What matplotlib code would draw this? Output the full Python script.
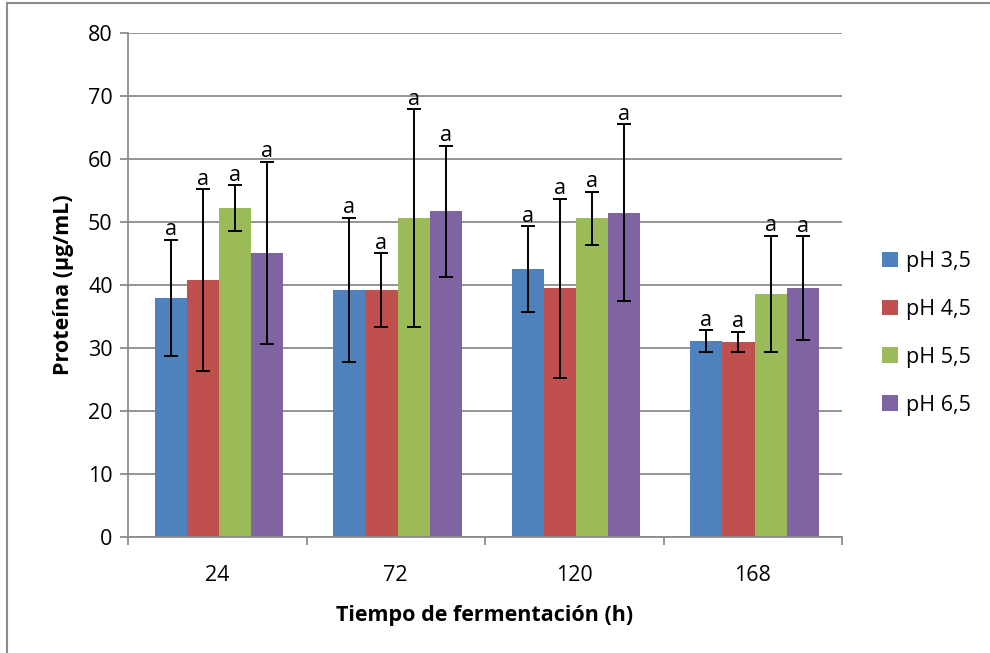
import matplotlib
matplotlib.use("Agg")
import matplotlib.pyplot as plt
from matplotlib.lines import Line2D
import numpy as np

plt.rcParams['font.family'] = ['Open Sans', 'DejaVu Sans']

categories = ["24", "72", "120", "168"]
series = ["pH 3,5", "pH 4,5", "pH 5,5", "pH 6,5"]
values = [
    [38.0, 39.2, 42.5, 31.1],   # pH 3,5
    [40.8, 39.2, 39.5, 31.0],   # pH 4,5
    [52.2, 50.6, 50.6, 38.6],   # pH 5,5
    [45.1, 51.7, 51.5, 39.5],   # pH 6,5
]
errors = [
    [9.2, 11.5, 6.8, 1.7],
    [14.4, 5.8, 14.2, 1.6],
    [3.6, 17.3, 4.2, 9.2],
    [14.5, 10.4, 14.0, 8.2],
]
letters = [["a"] * 4 for _ in range(4)]
colors = ["#4F81BD", "#C0504D", "#9BBB59", "#8064A2"]

FS = 15.5

fig = plt.figure(figsize=(9.9, 6.53), dpi=100)
ax = fig.add_axes([128/990, 1-537/653, (842-128)/990, (537-33)/653])

x = np.arange(len(categories))
w = 0.18
grid_c = "#8c8c8c"
for i, (s, v, e, c) in enumerate(zip(series, values, errors, colors)):
    pos = x + (i - 1.5) * w + 0.01
    ax.bar(pos, v, width=w, color=c, label=s, zorder=2, edgecolor='none')
    ax.errorbar(pos, v, yerr=e, fmt='none', ecolor='black', elinewidth=1.4,
                capsize=5, capthick=1.4, zorder=3)
    for p, vv, ee, lt in zip(pos, v, e, letters[i]):
        ax.text(p, vv + ee - 0.1, lt, ha='center', va='bottom', fontsize=FS, zorder=4)

ax.set_ylim(0, 80)
ax.set_xlim(-0.5, len(categories) - 0.5)
ax.set_yticks(np.arange(0, 81, 10))
ax.yaxis.grid(True, color=grid_c, linewidth=1.3, zorder=0)
ax.set_axisbelow(True)
ax.set_xticks(x)
ax.set_xticklabels(categories)
ax.set_xticks(np.arange(-0.5, len(categories)), minor=True)
ax.tick_params(axis='x', which='major', length=0, pad=20, labelsize=FS)
ax.tick_params(axis='x', which='minor', length=6, color=grid_c, width=1.3, direction='out')
ax.tick_params(axis='y', length=6, color=grid_c, width=1.3, labelsize=FS, pad=5)
for sp in ['top', 'right']:
    ax.spines[sp].set_visible(False)
for sp in ['left', 'bottom']:
    ax.spines[sp].set_color(grid_c)
    ax.spines[sp].set_linewidth(1.3)

ax.set_xlabel("Tiempo de fermentación (h)", fontsize=FS, fontweight='bold', labelpad=14)
ax.set_ylabel("Proteína (µg/mL)", fontsize=FS, fontweight='bold', labelpad=10)

fig.legend(loc='upper left', bbox_to_anchor=(882/990, 1-251/653), frameon=False,
           fontsize=FS, handlelength=0.75, handleheight=0.75, handletextpad=0.35,
           labelspacing=1.25, borderpad=0, borderaxespad=0)

# outer chart border (partially visible)
fig.add_artist(Line2D([7/990, 1], [1-3/653, 1-3/653], transform=fig.transFigure,
                      color="#8c8c8c", linewidth=1.5))
fig.add_artist(Line2D([7/990, 7/990], [0, 1-3/653], transform=fig.transFigure,
                      color="#8c8c8c", linewidth=1.5))

fig.savefig("out.png", dpi=100)
